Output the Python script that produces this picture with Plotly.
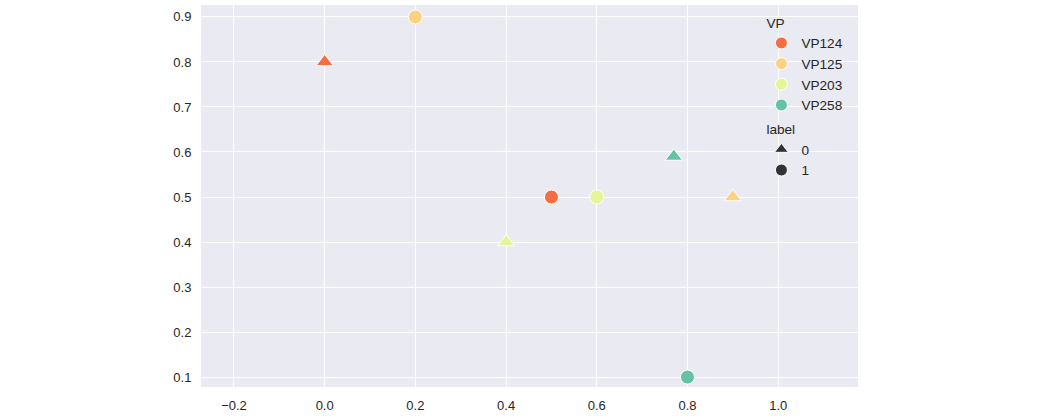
import plotly.graph_objects as go

# Data
vp = ["VP124", "VP125", "VP124", "VP203", "VP203", "VP258", "VP125", "VP258"]
label = [0, 1, 1, 1, 0, 0, 0, 1]
x_vals = [0.0, 0.2, 0.5, 0.6, 0.4, 0.77, 0.9, 0.8]
y_vals = [0.8, 0.9, 0.5, 0.5, 0.4, 0.59, 0.5, 0.1]

vp_order = ["VP124", "VP125", "VP203", "VP258"]
vp_colors = {"VP124": "#F46D43", "VP125": "#FDD27E", "VP203": "#E6F598", "VP258": "#66C2A5"}
label_order = [0, 1]
label_symbols = {0: "triangle-up", 1: "circle"}
label_sizes = {0: 15, 1: 14}

xticks = [-0.2, 0.0, 0.2, 0.4, 0.6, 0.8, 1.0]
yticks = [0.1, 0.2, 0.3, 0.4, 0.5, 0.6, 0.7, 0.8, 0.9]

fig = go.Figure()

# Data marks
for v in vp_order:
    for lb in label_order:
        xs = [x for x, a, b in zip(x_vals, vp, label) if a == v and b == lb]
        ys = [y for y, a, b in zip(y_vals, vp, label) if a == v and b == lb]
        if not xs:
            continue
        fig.add_trace(go.Scatter(
            x=xs, y=ys, mode="markers", showlegend=False,
            marker=dict(color=vp_colors[v], symbol=label_symbols[lb], size=label_sizes[lb],
                        line=dict(color="white", width=1)),
        ))

# Legend entries
for i, v in enumerate(vp_order):
    fig.add_trace(go.Scatter(
        x=[None], y=[None], mode="markers", name=v,
        legendgroup="VP", legendgrouptitle=dict(text="VP"),
        marker=dict(color=vp_colors[v], symbol="circle", size=12, line=dict(color="white", width=1)),
    ))
for lb in label_order:
    fig.add_trace(go.Scatter(
        x=[None], y=[None], mode="markers", name=str(lb),
        legendgroup="label", legendgrouptitle=dict(text="label"),
        marker=dict(color="#333333", symbol=label_symbols[lb], size=12, line=dict(color="white", width=1)),
    ))

fig.update_layout(
    width=1062, height=418,
    margin=dict(l=201, r=204, t=5, b=29),
    paper_bgcolor="white", plot_bgcolor="#EAEAF2",
    font=dict(family="Arial, Liberation Sans, sans-serif", size=13, color="#262626"),
    legend=dict(x=0.853, y=0.995, xanchor="left", yanchor="top", bgcolor="rgba(0,0,0,0)",
                tracegroupgap=3, font=dict(size=13.6), itemwidth=30,
                grouptitlefont=dict(size=13.6)),
    xaxis=dict(range=[-0.2727, 1.176], tickvals=xticks, ticktext=[f"{t:.1f}".replace("-", "\u2212") for t in xticks],
               showgrid=True, gridcolor="white", gridwidth=1.2, zeroline=False,
               ticks="outside", ticklen=6, tickcolor="rgba(0,0,0,0)", showline=False),
    yaxis=dict(range=[0.078, 0.9265], tickvals=yticks, ticktext=[f"{t:.1f}" for t in yticks],
               showgrid=True, gridcolor="white", gridwidth=1.2, zeroline=False,
               ticks="outside", ticklen=6, tickcolor="rgba(0,0,0,0)", showline=False),
)

fig.write_html("out.html")
